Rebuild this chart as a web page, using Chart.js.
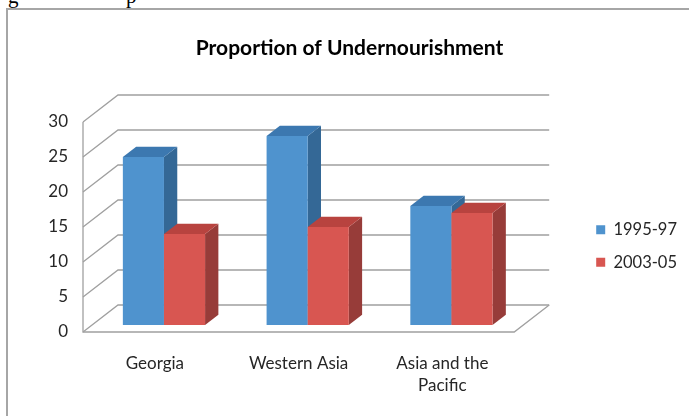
<!DOCTYPE html>
<html>
<head>
<meta charset="utf-8">
<script src="https://cdn.jsdelivr.net/npm/chart.js@4.4.1/dist/chart.umd.min.js"></script>
<style>
html, body { margin: 0; padding: 0; background: #fff; }
body { width: 689px; height: 416px; overflow: hidden; position: relative; }
#frame { position: absolute; left: 6px; top: 8px; width: 720px; height: 440px;
         border-left: 2px solid #a6a6a6; border-top: 2px solid #a6a6a6; }
#wrap { position: absolute; left: 0; top: 0; width: 689px; height: 416px; }
.cut { position: absolute; top: -16px; font: 21px "Liberation Serif", serif; color: #000; }
</style>
</head>
<body>
<div class="cut" style="left:8px">g</div>
<div class="cut" style="left:126px">p</div>
<div id="frame"></div>
<div id="wrap"><canvas id="chart" width="689" height="416"></canvas></div>
<script>
// data
const categories = ['Georgia', 'Western Asia', ['Asia and the', 'Pacific']];
const seriesNames = ['1995-97', '2003-05'];
const vals9597 = [24, 27, 17];
const vals0305 = [13, 14, 16];
const yMin = 0, yMax = 30, yStep = 5;

// colours: front, side, top
const blueFaces = ['#4f93ce', '#346896', '#3c78b0'];
const redFaces = ['#d85651', '#973c39', '#b8433f'];

// 3d depth of the walls and where the bars sit in it
const DX = 35, DY = -27;
const BAR_AT = 0.26, BAR_DEPTH = 0.38;

const threeD = {
    id: 'threeD',
    beforeDatasetsDraw(chart) {
        const ctx = chart.ctx;
        const a = chart.chartArea;
        const ys = chart.scales.y;
        ctx.save();
        ctx.strokeStyle = '#a0a0a0';
        ctx.lineWidth = 1.3;
        // walls + gridlines
        for (let v = yMin; v <= yMax; v += yStep) {
            const yy = ys.getPixelForValue(v);
            ctx.beginPath();
            ctx.moveTo(a.left, yy);
            ctx.lineTo(a.left + DX, yy + DY);
            ctx.lineTo(a.right + DX, yy + DY);
            ctx.stroke();
        }
        const y0 = ys.getPixelForValue(yMin);
        ctx.beginPath();
        ctx.moveTo(a.left, ys.getPixelForValue(yMax));
        ctx.lineTo(a.left, y0);
        ctx.lineTo(a.right, y0);
        ctx.lineTo(a.right + DX, y0 + DY);
        ctx.stroke();
        ctx.restore();

        // bars, drawn category by category so faces overlap right
        const ox = BAR_AT * DX, oy = BAR_AT * DY;
        const dx = BAR_DEPTH * DX, dy = BAR_DEPTH * DY;
        const faces = [blueFaces, redFaces];
        for (let i = 0; i < categories.length; i++) {
            chart.data.datasets.forEach((ds, d) => {
                const el = chart.getDatasetMeta(d).data[i];
                const p = el.getProps(['x', 'y', 'base', 'width'], true);
                const l = p.x - p.width / 2 + ox, r = p.x + p.width / 2 + ox;
                const t = p.y + oy, b = p.base + oy;
                ctx.save();
                ctx.fillStyle = faces[d][1];
                ctx.beginPath();
                ctx.moveTo(r, t); ctx.lineTo(r + dx, t + dy);
                ctx.lineTo(r + dx, b + dy); ctx.lineTo(r, b);
                ctx.closePath(); ctx.fill();
                ctx.fillStyle = faces[d][2];
                ctx.beginPath();
                ctx.moveTo(l, t); ctx.lineTo(l + dx, t + dy);
                ctx.lineTo(r + dx, t + dy); ctx.lineTo(r, t);
                ctx.closePath(); ctx.fill();
                ctx.translate(ox, oy);
                el.draw(ctx);
                ctx.restore();
            });
        }
        return false;
    }
};

// move legend and title to where the picture has them
const LEG_DX = 66, LEG_DY = 38, TITLE_DX = 39;
const nudge = {
    id: 'nudge',
    afterLayout(chart) {
        const lg = chart.legend;
        lg.left += LEG_DX; lg.right += LEG_DX;
        lg.top += LEG_DY; lg.bottom += LEG_DY;
        const tb = chart.titleBlock;
        tb.left += TITLE_DX; tb.right += TITLE_DX;
    }
};

const ctx = document.getElementById('chart').getContext('2d');
new Chart(ctx, {
    type: 'bar',
    data: {
        labels: categories,
        datasets: [
            { label: seriesNames[0], data: vals9597, backgroundColor: blueFaces[0], borderWidth: 0 },
            { label: seriesNames[1], data: vals0305, backgroundColor: redFaces[0], borderWidth: 0 }
        ]
    },
    options: {
        responsive: false,
        animation: false,
        events: [],
        layout: { padding: { left: 0, right: 68, top: 0, bottom: 0 } },
        datasets: { bar: { categoryPercentage: 0.572, barPercentage: 1.0 } },
        scales: {
            x: {
                grid: { display: false, drawTicks: false },
                border: { display: false },
                ticks: { color: '#262626', padding: 20, maxRotation: 0,
                         font: { family: 'Lato', size: 17, lineHeight: 1.3 } },
                afterFit: s => { s.height = 84; }
            },
            y: {
                min: yMin, max: yMax,
                grid: { display: false, drawTicks: false },
                border: { display: false },
                ticks: { stepSize: yStep, color: '#262626', padding: 15,
                         font: { family: 'Lato', size: 17 } },
                afterFit: s => { s.width = 83; }
            }
        },
        plugins: {
            title: {
                display: true,
                text: 'Proportion of Undernourishment',
                color: '#000',
                font: { family: 'Lato', size: 21, weight: 'bold' },
                padding: { top: 36, bottom: 60.8 }
            },
            legend: {
                position: 'right',
                labels: { boxWidth: 9, boxHeight: 9, padding: 16, color: '#262626',
                          font: { family: 'Lato', size: 16.5 } }
            },
            tooltip: { enabled: false }
        }
    },
    plugins: [threeD, nudge]
});
</script>
</body>
</html>
